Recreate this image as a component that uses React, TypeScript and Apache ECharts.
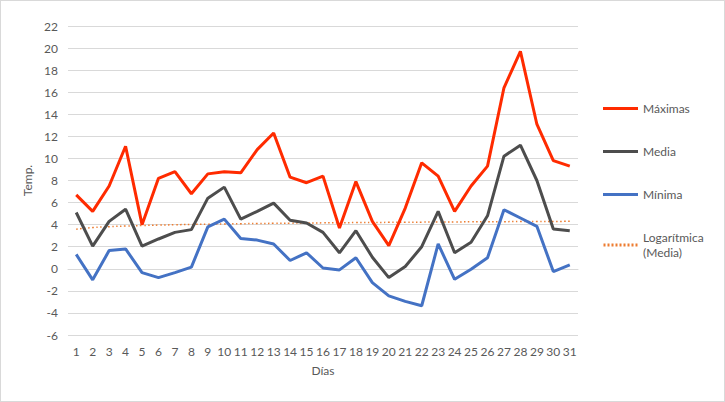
import React, { useEffect, useRef } from "react";
import * as echarts from "echarts";

const days: string[] = Array.from({ length: 31 }, (_, i) => String(i + 1));
const maximas: number[] = [6.7, 5.2, 7.5, 11.1, 4.0, 8.2, 8.8, 6.8, 8.6, 8.8, 8.7, 10.8, 12.3, 8.3, 7.8, 8.4, 3.7, 7.9, 4.3, 2.1, 5.5, 9.6, 8.4, 5.2, 7.5, 9.3, 16.4, 19.7, 13.1, 9.8, 9.3];
const media: number[] = [5.1, 2.05, 4.3, 5.4, 2.05, 2.7, 3.3, 3.55, 6.4, 7.4, 4.5, 5.2, 5.95, 4.4, 4.15, 3.3, 1.45, 3.45, 1.05, -0.8, 0.2, 2.0, 5.2, 1.45, 2.4, 4.8, 10.2, 11.2, 8.0, 3.6, 3.45];
const minima: number[] = [1.3, -1.0, 1.65, 1.8, -0.35, -0.8, -0.35, 0.15, 3.8, 4.5, 2.75, 2.6, 2.25, 0.75, 1.45, 0.07, -0.1, 1.0, -1.25, -2.45, -2.95, -3.35, 2.25, -0.95, -0.05, 1.0, 5.35, 4.6, 3.85, -0.25, 0.35];

// Logarithmic least-squares trendline of "Media" (as Excel computes it)
function logTrend(values: number[]): number[] {
  const n = values.length;
  const xs = values.map((_, i) => Math.log(i + 1));
  const mx = xs.reduce((a, b) => a + b, 0) / n;
  const my = values.reduce((a, b) => a + b, 0) / n;
  let sxy = 0;
  let sxx = 0;
  for (let i = 0; i < n; i++) {
    sxy += (xs[i] - mx) * (values[i] - my);
    sxx += (xs[i] - mx) * (xs[i] - mx);
  }
  const a = sxy / sxx;
  const b = my - a * mx;
  return xs.map((x) => +(a * x + b).toFixed(3));
}

const FONT = "Lato, 'Noto Sans', sans-serif";
const TXT = "#595959";

const solidIcon = "path://M0,0H36V3H0Z";
let dotted = "";
for (let i = 0; i < 9; i++) dotted += `M${i * 4},0h2v3h-2Z`;
const dottedIcon = "path://" + dotted;

export default function App() {
  const ref = useRef<HTMLDivElement>(null);
  useEffect(() => {
    if (!ref.current) return;
    const chart = echarts.init(ref.current, undefined, { renderer: "svg" });
    const trend = logTrend(media);
    chart.setOption({
      animation: false,
      textStyle: { fontFamily: FONT, color: TXT },
      grid: { left: 67, right: 146, top: 25, bottom: 66, containLabel: false },
      legend: {
        orient: "vertical",
        left: 602,
        top: 100,
        padding: 0,
        itemWidth: 35,
        itemHeight: 3,
        itemGap: 28,
        textStyle: { fontFamily: FONT, fontSize: 12, color: TXT, lineHeight: 15 },
        data: [
          { name: "Máximas", icon: solidIcon },
          { name: "Media", icon: solidIcon },
          { name: "Mínima", icon: solidIcon },
          { name: "Logarítmica\n(Media)", icon: dottedIcon },
        ],
      },
      xAxis: {
        type: "category",
        data: days,
        boundaryGap: true,
        name: "Días",
        nameLocation: "middle",
        nameGap: 29,
        nameTextStyle: { fontFamily: FONT, fontSize: 12, color: TXT },
        axisLine: { show: true, lineStyle: { color: "#D9D9D9" } },
        axisTick: { show: false },
        axisLabel: { fontFamily: FONT, fontSize: 12, color: TXT, margin: 10, interval: 0 },
        splitLine: { show: false },
      },
      yAxis: {
        type: "value",
        min: -6,
        max: 22,
        interval: 2,
        name: "Temp.",
        nameLocation: "middle",
        nameRotate: 90,
        nameGap: 31,
        nameTextStyle: { fontFamily: FONT, fontSize: 12, color: TXT },
        axisLine: { show: false },
        axisTick: { show: false },
        axisLabel: { fontFamily: FONT, fontSize: 12, color: TXT, margin: 10 },
        splitLine: { show: true, lineStyle: { color: "#D9D9D9", width: 1 } },
      },
      series: [
        {
          name: "Máximas",
          type: "line",
          data: maximas,
          symbol: "none",
          lineStyle: { color: "#FF2B00", width: 3 },
          itemStyle: { color: "#FF2B00" },
        },
        {
          name: "Media",
          type: "line",
          data: media,
          symbol: "none",
          lineStyle: { color: "#4D4D4D", width: 3 },
          itemStyle: { color: "#4D4D4D" },
        },
        {
          name: "Mínima",
          type: "line",
          data: minima,
          symbol: "none",
          lineStyle: { color: "#4472C4", width: 3 },
          itemStyle: { color: "#4472C4" },
        },
        {
          name: "Logarítmica\n(Media)",
          type: "line",
          data: trend,
          symbol: "none",
          smooth: true,
          lineStyle: { color: "#ED7D31", width: 1.5, type: [1.5, 2.5] },
          itemStyle: { color: "#ED7D31" },
          z: 1,
        },
      ],
    });
    return () => chart.dispose();
  }, []);
  return (
    <div
      ref={ref}
      style={{
        position: "fixed",
        left: 0,
        top: 0,
        width: 725,
        height: 402,
        border: "1px solid #D9D9D9",
        boxSizing: "border-box",
        background: "#fff",
      }}
    />
  );
}
